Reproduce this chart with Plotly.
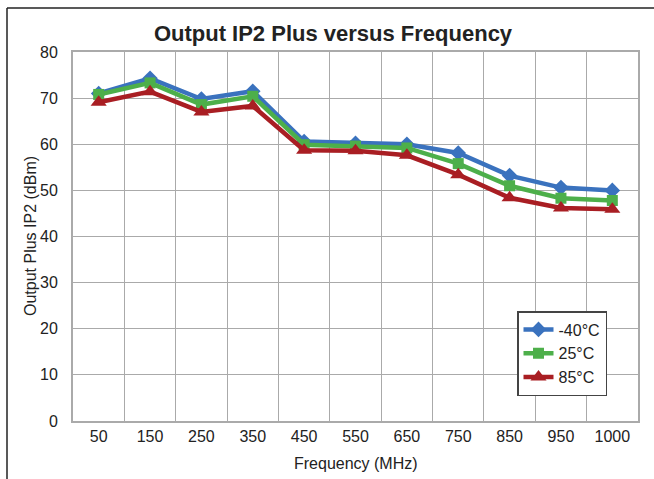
import plotly.graph_objects as go

freq_labels = ["50", "150", "250", "350", "450", "550", "650", "750", "850", "950", "1000"]
t_minus40 = [71.0, 74.3, 69.8, 71.5, 60.6, 60.2, 60.0, 58.1, 53.2, 50.6, 50.0]
t_25 = [70.8, 73.3, 68.6, 70.4, 59.9, 59.6, 59.2, 55.8, 51.0, 48.3, 47.8]
t_85 = [69.1, 71.4, 67.0, 68.3, 58.7, 58.6, 57.6, 53.4, 48.4, 46.2, 45.9]
series_names = ["-40°C", "25°C", "85°C"]

colors = ["#3A72BE", "#4DAF4A", "#A91E23"]
symbols = ["diamond", "square", "triangle-up"]
sizes = [12, 11, 14]

FONT = "Liberation Sans, Arial, sans-serif"

fig = go.Figure()
for name, vals, c, s, sz in zip(series_names, [t_minus40, t_25, t_85], colors, symbols, sizes):
    fig.add_trace(go.Scatter(
        x=freq_labels, y=vals, name=name, mode="lines+markers",
        line=dict(color=c, width=4.5),
        marker=dict(symbol=s, size=sz, color=c),
    ))

W, H = 654, 479
L, R, T, B = 73, 16, 52, 58
pw, ph = W - L - R, H - T - B

def px_x(x):
    return (x - L) / pw

def px_y(y):
    return (H - B - y) / ph

fig.update_layout(
    width=W, height=H,
    margin=dict(l=L, r=R, t=T, b=B, autoexpand=False),
    paper_bgcolor="white", plot_bgcolor="white",
    font=dict(family=FONT, size=16, color="#222222"),
    title=dict(text="<b>Output IP2 Plus versus Frequency</b>", x=333 / W, xref="container",
               xanchor="center", y=1 - 33 / H, yref="container", yanchor="middle",
               font=dict(size=22, color="#222222", family=FONT)),
    showlegend=True,
    legend=dict(x=px_x(517), y=px_y(311), xanchor="left", yanchor="top",
                bgcolor="white", bordercolor="#444444", borderwidth=1.5,
                font=dict(size=16, color="#222222", family=FONT),
                itemwidth=30),
    shapes=[
        dict(type="line", xref="paper", yref="paper", x0=px_x(7), x1=px_x(7), y0=px_y(8), y1=px_y(479),
             line=dict(color="#222222", width=1.5)),
        dict(type="line", xref="paper", yref="paper", x0=px_x(7), x1=px_x(654), y0=px_y(8), y1=px_y(8),
             line=dict(color="#222222", width=1.5)),
    ],
    annotations=[
        dict(text="Frequency (MHz)", xref="paper", yref="paper", x=px_x(356), y=px_y(463),
             xanchor="center", yanchor="middle", showarrow=False, font=dict(size=16)),
        dict(text="Output Plus IP2 (dBm)", xref="paper", yref="paper", x=px_x(30), y=px_y(236),
             xanchor="center", yanchor="middle", showarrow=False, textangle=-90, font=dict(size=16)),
    ],
)

fig.update_xaxes(
    type="category", range=[-0.5, len(freq_labels) - 0.5], tickson="boundaries",
    showgrid=True, gridcolor="#AAAAAA", gridwidth=1.3,
    showline=True, linecolor="#AAAAAA", linewidth=2, mirror=True,
    ticks="outside", ticklen=6, tickcolor="rgba(0,0,0,0)", automargin=False,
    tickfont=dict(size=16),
)
fig.update_yaxes(
    range=[0, 80], dtick=10, showgrid=True, gridcolor="#AAAAAA", gridwidth=1.3,
    showline=True, linecolor="#AAAAAA", linewidth=2, mirror=True,
    ticks="outside", ticklen=10, tickcolor="rgba(0,0,0,0)", zeroline=False, automargin=False,
    tickfont=dict(size=16),
)

post = ("document.documentElement.style.margin='0';document.documentElement.style.overflow='hidden';"
        "document.body.style.margin='0';document.body.style.padding='0';document.body.style.overflow='hidden';")
fig.write_html("out.html", post_script=post, config={"responsive": False, "displayModeBar": False})
